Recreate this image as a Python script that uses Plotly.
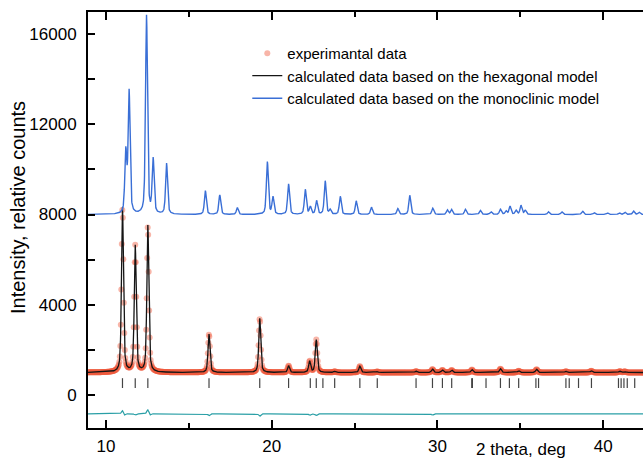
import numpy as np
import plotly.graph_objects as go

# ---------------- data ----------------
# hexagonal model (lower pattern): peak positions (2theta, deg) and heights above background
hex_pos = [11.00, 11.77, 12.53, 16.22, 19.28, 21.02, 22.29, 22.69, 23.80, 25.32, 26.37,
           28.71, 29.70, 30.30, 30.86, 32.08, 33.80, 34.90, 35.98, 37.75, 39.28, 41.00, 41.30]
hex_h = [7300, 5600, 6500, 1700, 2400, 300, 500, 1450, 50, 280, 40,
         60, 150, 110, 110, 130, 170, 80, 140, 50, 80, 60, 50]
hex_background = 1000

# monoclinic model (upper pattern, shifted by +8000)
mono_pos = [11.20, 11.40, 12.45, 12.85, 13.66, 16.00, 16.87, 17.93, 19.74, 20.08,
            21.02, 22.03, 22.33, 22.71, 23.23, 23.53, 24.14, 25.10, 26.02, 27.61,
            28.33, 29.72, 30.60, 30.85, 31.69, 32.59, 33.23, 33.80, 34.14, 34.38,
            34.74, 35.04, 35.30, 36.70, 37.51, 38.75, 39.46, 40.26, 40.96, 41.31,
            41.83, 42.17]
mono_h = [2700, 5400, 8800, 2400, 2250, 1050, 860, 300, 2330, 760,
          1350, 1100, 330, 600, 1480, 200, 800, 600, 320, 260,
          850, 280, 200, 220, 230, 180, 120, 230, 150, 360,
          180, 400, 180, 120, 120, 150, 80, 70, 80, 100,
          150, 100]
mono_offset = 8000

# Bragg reflection positions (hexagonal model)
bragg_pos = [11.00, 11.77, 12.53, 16.22, 19.28, 21.02, 22.33, 22.69, 23.09, 23.80,
             25.32, 26.37, 28.71, 29.70, 30.30, 30.86, 32.07, 32.11, 32.93, 33.80,
             34.34, 34.90, 35.94, 36.10, 37.75, 37.95, 38.51, 39.29, 40.92, 41.08,
             41.25, 41.45, 41.90]
bragg_level = 530

# difference curve: level and residual features at peak positions
diff_level = -830
diff_pos = [11.00, 11.10, 11.77, 12.53, 12.65, 16.22, 19.28, 22.30, 22.69, 29.70]
diff_h = [160, -90, -60, 190, -80, -90, -110, -70, -80, -60]

y_tick_vals = [0, 4000, 8000, 12000, 16000]
y_tick_text = ["0", "4000", "8000", "12000", "16000"]
x_tick_vals = [10, 20, 30, 40]

fwhm = 0.14
eta = 0.5


def profile(x, pos, h):
    y = np.zeros_like(x)
    hw = fwhm / 2.0
    for p, a in zip(pos, h):
        t = ((x - p) / hw) ** 2
        y += a * (eta / (1 + t) + (1 - eta) * np.exp(-np.log(2) * t))
    return y


x_calc = np.arange(8.92, 42.45, 0.01)
x_exp = np.arange(8.92, 42.45, 0.03)

y_hex = hex_background + profile(x_calc, hex_pos, hex_h)
y_exp = hex_background + profile(x_exp, hex_pos, hex_h)
y_mono = mono_offset + profile(x_calc, mono_pos, mono_h)
y_diff = diff_level + profile(x_calc, diff_pos, diff_h)

font_family = "Arial, Liberation Sans, sans-serif"

fig = go.Figure()
fig.add_trace(go.Scatter(
    x=x_exp, y=y_exp, mode="markers", name="experimantal data",
    marker=dict(size=6, color="rgba(240,92,62,0.45)", line=dict(width=0)),
))
fig.add_trace(go.Scatter(
    x=x_calc, y=y_hex, mode="lines", name="calculated data based on the hexagonal model",
    line=dict(color="#151515", width=1.3),
))
fig.add_trace(go.Scatter(
    x=x_calc, y=y_mono, mode="lines", name="calculated data based on the monoclinic model",
    line=dict(color="#3a6fd6", width=1.4),
))
fig.add_trace(go.Scatter(
    x=bragg_pos, y=[bragg_level] * len(bragg_pos), mode="markers", showlegend=False,
    marker=dict(symbol="line-ns", size=7, line=dict(color="#444444", width=1.2)),
))
fig.add_trace(go.Scatter(
    x=x_calc, y=y_diff, mode="lines", showlegend=False,
    line=dict(color="#2a9fa6", width=1.2),
))

fig.update_layout(
    width=643, height=460,
    margin=dict(l=88, r=0, t=12, b=32),
    paper_bgcolor="white", plot_bgcolor="white",
    font=dict(family=font_family, color="black", size=17),
    legend=dict(
        x=0.287, y=0.94, xanchor="left", yanchor="top",
        bgcolor="rgba(0,0,0,0)", font=dict(size=15, family=font_family),
        tracegroupgap=0, itemwidth=30,
    ),
    xaxis=dict(
        range=[8.92, 42.4], tickmode="array", tickvals=x_tick_vals,
        ticks="inside", ticklen=8, tickwidth=1.5, tickcolor="black",
        minor=dict(tickvals=[15, 25, 35], ticks="inside", ticklen=5, tickwidth=1.5, tickcolor="black"),
        showline=True, linecolor="black", linewidth=2, mirror="ticks",
        showgrid=False, zeroline=False, ticklabelstandoff=2,
    ),
    yaxis=dict(
        range=[-1460, 16975], tickmode="array", tickvals=y_tick_vals, ticktext=y_tick_text,
        ticks="inside", ticklen=7, tickwidth=1.5, tickcolor="black",
        minor=dict(tickvals=[2000, 6000, 10000, 14000], ticks="inside", ticklen=7,
                   tickwidth=1.5, tickcolor="black"),
        showline=True, linecolor="black", linewidth=2,
        showgrid=False, zeroline=False, ticklabelstandoff=6,
    ),
    annotations=[
        dict(text="2 theta, deg", xref="paper", yref="paper",
             x=(521 - 88) / 555, y=-(449 - 428) / 416, xanchor="center", yanchor="middle",
             showarrow=False, font=dict(size=17, family=font_family)),
        dict(text="Intensity, relative counts", xref="paper", yref="paper",
             x=(18 - 88) / 555, y=1 - (208 - 12) / 416, xanchor="center", yanchor="middle",
             textangle=-90, showarrow=False, font=dict(size=20, family=font_family)),
    ],
)

fig.write_html("out.html", config={"displayModeBar": False},
               post_script="document.body.style.margin='0';document.body.style.padding='0';")
